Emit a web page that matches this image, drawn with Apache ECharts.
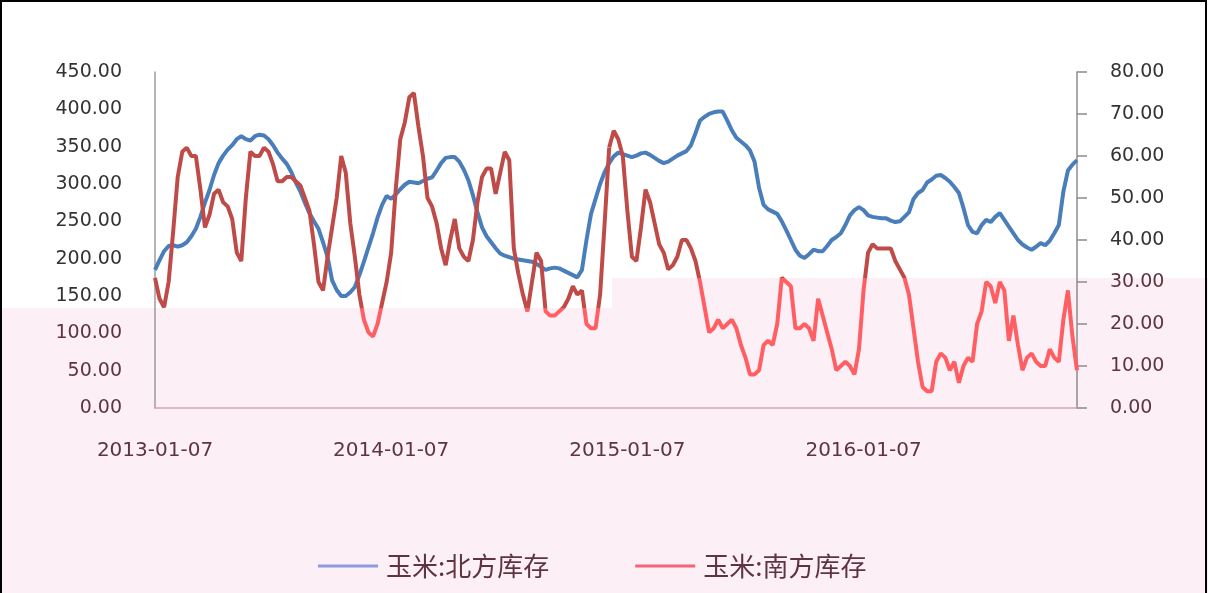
<!DOCTYPE html>
<html>
<head>
<meta charset="utf-8">
<script src="https://cdn.jsdelivr.net/npm/echarts@6/dist/echarts.min.js"></script>
<style>
  html, body { margin: 0; padding: 0; background: #fff; }
  #chart { width: 1208px; height: 593px; }
</style>
</head>
<body>
<div id="chart"></div>
<script>
// 周度日期：每年从 01-07 起
var yearStarts = ['2013-01-07', '2014-01-07', '2015-01-07', '2016-01-07'];
var weeksPerYear = [52, 52, 52, 48];

// 玉米:北方库存（左轴）
var northStock = [
  185, 198, 210, 217, 218, 216, 218, 222, 230, 240,
  256, 275, 292, 312, 328, 338, 346, 352, 360, 364,
  360, 358, 364, 366, 365, 360, 352, 342, 334, 327,
  316, 302, 290, 275, 261, 250, 240, 222, 202, 171,
  158, 150, 150, 155, 162, 178, 196, 215, 234, 255,
  272, 284, 280, 286, 293, 299, 303, 302, 301, 304,
  307, 309, 318, 328, 335, 336, 336, 330, 319, 305,
  285, 262, 242, 230, 222, 214, 207, 204, 202, 200,
  199, 198, 197, 196, 193, 189, 185, 187, 188, 187,
  184, 181, 178, 175, 185, 225, 260, 280, 300, 316,
  328, 337, 342, 340, 338, 336, 338, 341, 342, 339,
  335, 331, 328, 330, 334, 338, 341, 344, 352, 368,
  385, 390, 394, 396, 397, 397, 385, 372, 362, 357,
  352, 345, 330, 295, 272, 266, 263, 260, 250, 238,
  225, 212, 204, 201, 206, 212, 210, 210, 217, 225,
  229, 234, 245, 258, 265, 269, 265, 258, 256, 255,
  254, 254, 251, 249, 250, 256, 262, 280, 288, 292,
  302, 306, 311, 312, 308, 303, 296, 288, 268, 245,
  236, 234, 245, 252, 249, 256, 261, 252, 243, 234,
  225, 219, 215, 212, 216, 221, 218, 224, 234, 245,
  290, 318, 326, 332
];

// 玉米:南方库存（右轴）
var southStock = [
  31, 26, 24, 30, 42, 55, 61, 62, 60, 60,
  52, 43, 46, 51, 52, 49, 48, 45, 37, 35,
  50, 61, 60, 60, 62, 61, 58, 54, 54, 55,
  55, 54, 53, 50, 47, 39, 30, 28, 36, 43,
  50, 60, 56, 44, 36, 27, 21, 18, 17, 20,
  25, 30, 37, 52, 64, 68, 74, 75, 67, 60,
  50, 48, 44, 38, 34, 40, 45, 38, 36, 35,
  40, 49, 55, 57, 57, 51, 56, 61, 59, 38,
  32, 27, 23, 30, 37, 35, 23, 22, 22, 23,
  24, 26, 29, 27, 28, 20, 19, 19, 27, 44,
  62, 66, 64, 60, 47, 36, 35, 43, 52, 49,
  44, 39, 37, 33, 34, 36, 40, 40, 38, 35,
  30, 24, 18, 19, 21, 19, 20, 21, 19, 15,
  12, 8, 8, 9, 15, 16, 15, 20, 31, 30,
  29, 19, 19, 20, 19, 16, 26, 22, 18, 14,
  9, 10, 11, 10, 8, 14, 28, 37, 39, 38,
  38, 38, 38, 35, 33, 31, 27, 19, 11, 5,
  4, 4, 11, 13, 12, 9, 11, 6, 10, 12,
  11, 20, 23, 30, 29, 25, 30, 28, 16, 22,
  15, 9, 12, 13, 11, 10, 10, 14, 12, 11,
  21, 28, 17, 9
];

function pad(n) { return n < 10 ? '0' + n : '' + n; }
var dates = [];
yearStarts.forEach(function (s, k) {
  var p = s.split('-');
  var d0 = new Date(Date.UTC(+p[0], +p[1] - 1, +p[2]));
  for (var w = 0; w < weeksPerYear[k]; w++) {
    var d = new Date(d0.getTime() + w * 7 * 86400000);
    dates.push(d.getUTCFullYear() + '-' + pad(d.getUTCMonth() + 1) + '-' + pad(d.getUTCDate()));
  }
});

// 红线分两段画，两段的粉色分界高度不同
var splitIdx = 100;
var southLeft = southStock.map(function (v, i) { return i <= splitIdx ? v : '-'; });
var southRight = southStock.map(function (v, i) { return i >= splitIdx ? v : '-'; });

var darkRed = '#be4b48';
var lightRed = '#ff5f63';
var pinkBg = '#fdeff6';
var brownText = '#5e3440';

function redGrad(edgeY) {
  var t = edgeY / 593;
  return {
    type: 'linear', x: 0, y: 0, x2: 0, y2: 593, global: true,
    colorStops: [
      { offset: 0, color: darkRed }, { offset: t, color: darkRed },
      { offset: t, color: lightRed }, { offset: 1, color: lightRed }
    ]
  };
}

var chart = echarts.init(document.getElementById('chart'), null, { renderer: 'canvas' });

chart.setOption({
  backgroundColor: '#ffffff',
  animation: false,
  graphic: [
    { type: 'rect', z: -10, shape: { x: 0, y: 308, width: 612, height: 300 }, style: { fill: pinkBg } },
    { type: 'rect', z: -10, shape: { x: 612, y: 278, width: 600, height: 330 }, style: { fill: pinkBg } },
    { type: 'rect', z: 100, silent: true, shape: { x: 1, y: 1, width: 1205, height: 600 },
      style: { fill: 'none', stroke: '#000', lineWidth: 2 } }
  ],
  grid: { left: 155, right: 131, top: 72, bottom: 185 },
  legend: {
    left: 313,
    top: 548,
    itemWidth: 60,
    itemHeight: 3,
    itemGap: 86,
    textStyle: {
      fontFamily: 'Noto Sans CJK SC', fontSize: 26, color: brownText,
      padding: [0, 0, 0, 3]
    },
    data: [
      { name: '玉米:北方库存', icon: 'rect', itemStyle: { color: '#8d9ade' } },
      { name: '玉米:南方库存', icon: 'rect', itemStyle: { color: '#f3647a' } }
    ]
  },
  xAxis: {
    type: 'category',
    data: dates,
    boundaryGap: false,
    axisLine: { lineStyle: { color: '#d6a4b0', width: 1.5 } },
    axisTick: { show: false },
    axisLabel: {
      interval: 51, margin: 33,
      fontFamily: 'DejaVu Sans', fontSize: 20, color: brownText
    },
    splitLine: { show: false }
  },
  yAxis: [
    {
      type: 'value', min: 0, max: 450, interval: 50,
      axisLine: { show: true, lineStyle: { color: '#9c9c9c', width: 1.5 } },
      axisTick: { show: false },
      splitLine: { show: false },
      axisLabel: {
        margin: 33, fontFamily: 'DejaVu Sans', fontSize: 19,
        formatter: function (v) { return v.toFixed(2); },
        color: function (v) { return Number(v) <= 100 ? brownText : '#333333'; }
      }
    },
    {
      type: 'value', min: 0, max: 80, interval: 10, position: 'right',
      axisLine: { show: true, lineStyle: { color: '#8c8c8c', width: 1.5 } },
      axisTick: { show: true, inside: false, length: 10, lineStyle: { color: '#8c8c8c', width: 1.5 } },
      splitLine: { show: false },
      axisLabel: {
        margin: 33, fontFamily: 'DejaVu Sans', fontSize: 19,
        formatter: function (v) { return v.toFixed(2); },
        color: function (v) { return Number(v) <= 30 ? brownText : '#333333'; }
      }
    }
  ],
  series: [
    {
      name: '玉米:北方库存', type: 'line', yAxisIndex: 0, data: northStock,
      symbol: 'none', smooth: false,
      lineStyle: { color: '#4a7ebb', width: 4 }, itemStyle: { color: '#4a7ebb' }
    },
    {
      name: '玉米:南方库存', type: 'line', yAxisIndex: 1, data: southLeft,
      symbol: 'none', connectNulls: false,
      lineStyle: { color: redGrad(308), width: 4 }, itemStyle: { color: darkRed }
    },
    {
      name: '玉米:南方库存', type: 'line', yAxisIndex: 1, data: southRight,
      symbol: 'none', connectNulls: false,
      lineStyle: { color: redGrad(278), width: 4 }, itemStyle: { color: darkRed }
    }
  ]
});
</script>
</body>
</html>
